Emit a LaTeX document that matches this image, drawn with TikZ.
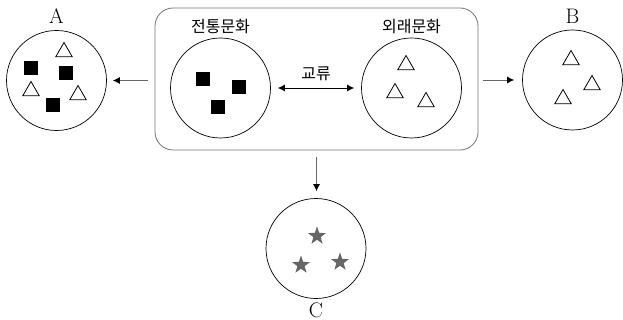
\documentclass[tikz,border=0pt]{standalone}
\usepackage{fontspec}
\newfontfamily\hangul{Noto Sans CJK KR}
\usetikzlibrary{shapes.geometric, arrows.meta, positioning}

\begin{document}
\begin{tikzpicture}[
    x=1pt, y=-1pt,
    group/.style={circle, draw, line width=0.7pt, minimum size=100pt, inner sep=0pt},
    tri/.style={regular polygon, regular polygon sides=3, draw, line width=0.8pt, fill=white, minimum size=19pt, inner sep=0pt},
    blk/.style={rectangle, fill=black, minimum size=14pt, inner sep=0pt},
    gstar/.style={star, star points=5, star point ratio=2.5, fill=black!60, minimum size=19pt, inner sep=0pt},
    tag/.style={font=\fontsize{21}{21}\selectfont, inner sep=0pt},
    ktag/.style={font=\hangul\fontsize{16}{16}\selectfont, inner sep=0pt},
    flow/.style={draw=black!60, line width=0.8pt, -{Latex[black, length=7pt, width=7pt]}}
]
\useasboundingbox (0,0) rectangle (623,320);

% Exchange box
\node[draw=black!55, line width=0.8pt, rounded corners=18pt, minimum width=323pt, minimum height=142pt] (box) at (316.5,79) {};

% Circles
\node[group] (trad) at (220.5,88) {};
\node[group] (foreign) at (411.5,88) {};
\node[group] (A) at (56.5,80.5) {};
\node[group] (B) at (572.5,80) {};
\node[group] (C) at (316,248.5) {};

% Labels
\node[ktag, above=4pt of trad] (labT) {전통문화};
\node[ktag, above=4pt of foreign] (labF) {외래문화};
\node[tag, above=6pt of A] (labA) {A};
\node[tag, above=6pt of B] (labB) {B};
\node[tag, below=3.5pt of C] (labC) {C};

% Symbols
\node[blk] at (203,79) {};
\node[blk] at (239,87) {};
\node[blk] at (218,107) {};
\node[tri] at (406,65) {};
\node[tri] at (395,93) {};
\node[tri] at (426,102) {};

\node[tri] at (64,52) {};
\node[blk] at (31,68) {};
\node[blk] at (66,73) {};
\node[tri] at (31,91) {};
\node[tri] at (78,95) {};
\node[blk] at (53,105) {};

\node[tri] at (571,60) {};
\node[tri] at (592,85) {};
\node[tri] at (563,99) {};

\node[gstar] at (317,236) {};
\node[gstar] at (301,265) {};
\node[gstar] at (340,262) {};

% Arrows
\draw[line width=0.8pt, {Latex[length=7pt, width=7pt]}-{Latex[length=7pt, width=7pt]}, shorten <=7pt, shorten >=7pt]
    (trad.east) -- node[ktag, above=7pt] (swap) {교류} (foreign.west);
\draw[flow, shorten <=7pt, shorten >=6pt] (A.east -| box.west) -- (A.east);
\draw[flow, shorten <=5pt, shorten >=8pt] (B.west -| box.east) -- (B.west);
\draw[flow, shorten <=7pt, shorten >=7pt] (box.south) -- (box.south |- C.north);

\end{tikzpicture}
\end{document}
